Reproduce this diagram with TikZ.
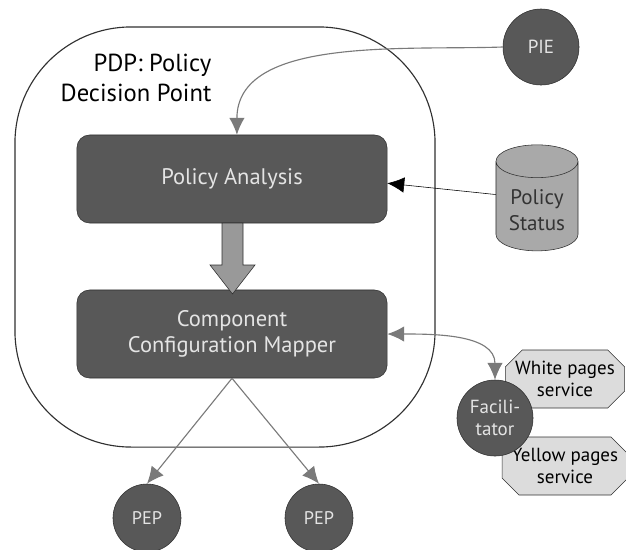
\documentclass[tikz,border=0pt]{standalone}
\usepackage{fontspec}
\setmainfont{PT Sans}
\usetikzlibrary{arrows.meta,shapes.geometric,shapes.misc}
\definecolor{boxfill}{HTML}{585858}
\definecolor{boxedge}{HTML}{303030}
\definecolor{boxtext}{HTML}{E4E4E4}
\definecolor{linkgray}{HTML}{7A7A7A}
\definecolor{dbfill}{HTML}{A9A9A9}
\definecolor{svcfill}{HTML}{DCDCDC}
\tikzset{
  procbox/.style={draw=boxedge, fill=boxfill, rounded corners=9pt, minimum width=7.75cm, minimum height=2.2cm, text=boxtext, align=center, font=\fontsize{16}{19}\selectfont},
  agent/.style={circle, draw=boxedge, fill=boxfill, text=boxtext, align=center, inner sep=0pt},
  service/.style={chamfered rectangle, chamfered rectangle xsep=6pt, chamfered rectangle ysep=6pt, draw=boxedge, fill=svcfill, minimum width=2.75cm, minimum height=1.45cm, align=center, inner sep=1pt, font=\fontsize{13.5}{16}\selectfont},
  link/.style={draw=linkgray, thick, ->},
}
\begin{document}
\begin{tikzpicture}[x=0.025cm, y=-0.025cm, >={Latex[length=12pt,width=11pt]}]
\useasboundingbox (0,0) rectangle (626,549);
% container
\node[draw=boxedge, thick, rounded corners=2.9cm, minimum width=10.5cm, minimum height=10.5cm] (pdp) at (225,237) {};
\node[align=right, font=\fontsize{17.5}{21}\selectfont] (pdplabel) at (136,78) {PDP: Policy\\Decision Point};

\node[procbox] (analysis) at (232,179) {Policy Analysis};
\node[procbox] (mapper) at (232,334) {Component\\Configuration Mapper};

% big arrow between the two boxes
\draw[draw=boxedge, fill=gray!80] (222,223) -- (243,223) -- (243,265) -- (255,265) -- (232.5,294) -- (210,265) -- (222,265) -- cycle;

% outside parts
\node[agent, minimum size=1.9cm, font=\fontsize{13.5}{16}\selectfont] (pie) at (541,47) {PIE};
\node[cylinder, shape border rotate=90, aspect=0.5, draw=boxedge, fill=dbfill, text=black!80, minimum width=2.05cm, minimum height=2.65cm, align=center, font=\fontsize{15}{18}\selectfont] (status) at (537,210) {Policy\\Status};
\node[service] (white) at (565,379) {White pages\\service};
\node[service] (yellow) at (565,466) {Yellow pages\\service};
\node[agent, minimum size=1.9cm, font=\fontsize{13.5}{16}\selectfont] (facil) at (495,418) {Facili-\\tator};
\node[agent, minimum size=1.7cm, font=\fontsize{13}{15}\selectfont] (pep1) at (147,518) {PEP};
\node[agent, minimum size=1.7cm, font=\fontsize{13}{15}\selectfont] (pep2) at (319,518) {PEP};

% links
\draw[link] (pie.west) to[out=182, in=90, looseness=0.9] ([xshift=3.5]analysis.north);
\draw[->] ([yshift=11]status.west) -- ([yshift=-3]analysis.east);
\draw[link, <->] (mapper.east) to[out=0, in=90] (facil.north);
\draw[link] (mapper.south) -- (pep1.north);
\draw[link] (mapper.south) -- (pep2.north);
\end{tikzpicture}
\end{document}
